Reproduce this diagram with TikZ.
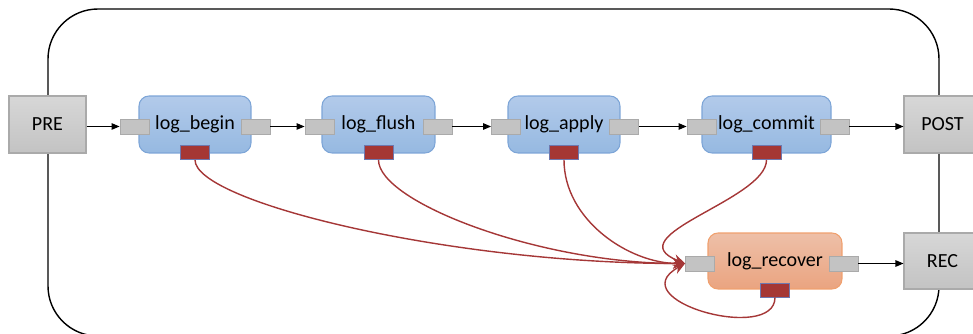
\documentclass[tikz,border=0pt]{standalone}
\usepackage{fontspec}
\setmainfont{Carlito}
\usetikzlibrary{arrows.meta}

\definecolor{blueTop}{RGB}{178,202,234}
\definecolor{blueBot}{RGB}{150,185,225}
\definecolor{blueLine}{RGB}{125,165,215}
\definecolor{orangeTop}{RGB}{238,192,168}
\definecolor{orangeBot}{RGB}{234,164,128}
\definecolor{orangeLine}{RGB}{240,160,110}
\definecolor{grayTop}{RGB}{215,215,215}
\definecolor{grayBot}{RGB}{195,195,195}
\definecolor{grayLine}{RGB}{170,170,170}
\definecolor{errFill}{RGB}{165,55,52}
\definecolor{errLine}{RGB}{110,120,175}
\definecolor{errWire}{RGB}{165,55,55}

\tikzset{
  stage/.style={rounded corners=0.2cm, draw=blueLine, line width=0.6pt,
    top color=blueTop, bottom color=blueBot, minimum height=1.14cm,
    inner sep=0pt, font=\fontsize{11.4}{13.5}\selectfont},
  recstage/.style={stage, draw=orangeLine, top color=orangeTop, bottom color=orangeBot},
  endbox/.style={draw=grayLine, line width=0.6pt, top color=grayTop, bottom color=grayBot,
    minimum width=1.54cm, minimum height=1.14cm, inner sep=0pt,
    font=\fontsize{11.4}{13.5}\selectfont},
  port/.style={draw=grayLine, fill=grayBot, line width=0.5pt,
    minimum width=0.58cm, minimum height=0.3cm, inner sep=0pt},
  errport/.style={draw=errLine, fill=errFill, line width=0.5pt,
    minimum width=0.58cm, minimum height=0.28cm, inner sep=0pt},
  flow/.style={-{Triangle[length=1.6mm,width=1.3mm]}, line width=0.6pt},
  errflow/.style={-{Stealth[length=2.4mm,width=2mm]}, draw=errWire, line width=0.8pt}
}

\begin{document}
\begin{tikzpicture}[x=0.02cm, y=-0.02cm]
  \useasboundingbox (0,0) rectangle (973,334);

  % outer frame
  \draw[line width=0.8pt, rounded corners=1cm] (48,9) rectangle (939,336);

  % main chain
  \node[endbox] (pre) at (47.5,124.5) {PRE};

  \node[stage, minimum width=2.24cm] (begin) at (195,124.5) {log\_begin};
  \node[port] (beginIn) at (134.5,126.5) {};
  \node[port] (beginOut) at (255.5,126.5) {};
  \node[errport] (beginErr) at (195,152.5) {};

  \node[stage, minimum width=2.26cm] (flush) at (378.5,124.5) {log\_flush};
  \node[port] (flushIn) at (319.5,126.5) {};
  \node[port] (flushOut) at (437.5,126.5) {};
  \node[errport] (flushErr) at (378.5,152.5) {};

  \node[stage, minimum width=2.24cm] (apply) at (564,124.5) {log\_apply};
  \node[port] (applyIn) at (506,126.5) {};
  \node[port] (applyOut) at (624,126.5) {};
  \node[errport] (applyErr) at (564,152.5) {};

  \node[stage, minimum width=2.58cm] (commit) at (766.5,124.5) {log\_commit};
  \node[port] (commitIn) at (701.5,126.5) {};
  \node[port] (commitOut) at (834.5,126.5) {};
  \node[errport] (commitErr) at (766.5,152.5) {};

  \node[endbox] (post) at (942.5,124.5) {POST};

  % recovery
  \node[recstage, minimum width=2.68cm, minimum height=1.12cm] (recover) at (775,261) {log\_recover};
  \node[port] (recoverIn) at (700,263.5) {};
  \node[port] (recoverOut) at (843.5,263.5) {};
  \node[errport] (recoverErr) at (775,290) {};

  \node[endbox, minimum height=1.12cm] (rec) at (942.5,261) {REC};

  % normal flow
  \draw[flow] (pre.east |- beginIn) -- (beginIn);
  \draw[flow] (beginOut) -- (flushIn);
  \draw[flow] (flushOut) -- (applyIn);
  \draw[flow] (applyOut) -- (commitIn);
  \draw[flow] (commitOut) -- (post.west |- commitOut);
  \draw[flow] (recoverOut) -- (rec.west |- recoverOut);

  % error paths
  \draw[errflow] (beginErr.south) .. controls +(0,42) and +(-236,0) .. (recoverIn.west);
  \draw[errflow] (flushErr.south) .. controls +(0,42) and +(-146,0) .. (recoverIn.west);
  \draw[errflow] (applyErr.south) .. controls +(0,60) and +(-56,0) .. (recoverIn.west);
  \draw[errflow] (commitErr.south) .. controls +(0,40) and +(-70,-28) .. (recoverIn.west);
  \draw[errflow] (recoverErr.south) .. controls +(0,46) and +(-66,37) .. (recoverIn.west);
\end{tikzpicture}
\end{document}
